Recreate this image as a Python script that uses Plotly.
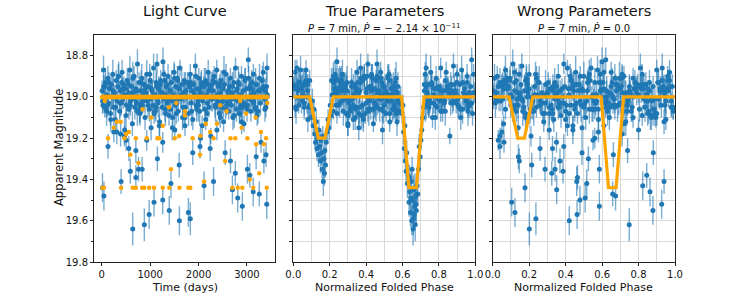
import plotly.graph_objects as go

# ---------------- data ----------------
# out-of-eclipse observations, block 1 (model magnitude 19.0)
out_t = [8, 25, 41, 52, 77, 93, 110, 128, 139, 161,
         180, 196, 214, 229, 247, 262, 281, 300, 318, 333,
         352, 371, 386, 404, 421, 440, 458, 473, 492, 510,
         527, 545, 560, 581, 598, 614, 633, 650, 668, 684,
         703, 719, 738, 756, 771, 790, 808, 826, 841, 860,
         877, 895, 912, 930, 946, 965, 983, 1001, 1018, 1036,
         1053, 1071, 1090, 1106, 1124, 1142, 1159, 1177, 1195, 1211,
         1230, 1247, 1265, 1282, 1300, 1317, 1336, 1353, 1370, 1389,
         1405, 1424, 1441, 1459, 1476, 1494, 1512, 1529, 1547, 1565,
         1582, 1600, 1617, 1635, 1652, 1671, 1688, 1706, 1723, 1741,
         1759, 1776, 1794, 1811, 1830, 1847, 1865, 1882, 1900, 1918,
         1935, 1953, 1971, 1988, 2006, 2024, 2041, 2059, 2076, 2094,
         2112, 2129, 2147, 2165, 2182, 2200, 2217, 2235, 2253, 2270,
         2288, 2306, 2323, 2341, 2358, 2376, 2394, 2411, 2429, 2447,
         2464, 2482, 2500, 2517, 2535, 2552, 2570, 2588, 2605, 2623,
         2641, 2658, 2676, 2693, 2711, 2729, 2746, 2764, 2782, 2799,
         2817, 2835, 2852, 2870, 2887, 2905, 2923, 2940, 2958, 2976,
         2993, 3011, 3028, 3046, 3064, 3081, 3099, 3117, 3134, 3152,
         3170, 3190, 3212, 3236, 3259, 3281, 3305, 3338, 3372, 3415]
out_mag = [18.97, 19.04, 18.95, 19.01, 18.93, 19.06, 18.99, 18.91, 19.03, 18.96,
           19.08, 18.94, 19.00, 18.89, 19.05, 18.98, 19.11, 18.92, 19.02, 18.95,
           18.90, 19.07, 18.97, 19.03, 18.88, 19.01, 18.94, 19.16, 18.96, 19.04,
           18.92, 18.99, 19.06, 18.87, 19.02, 18.95, 19.13, 18.98, 18.90, 19.05,
           18.96, 19.03, 18.84, 19.00, 18.93, 19.08, 18.97, 18.91, 19.04, 18.99,
           18.94, 19.10, 18.98, 18.89, 19.02, 18.95, 19.06, 18.92, 19.01, 18.97,
           19.04, 18.86, 18.99, 19.07, 18.93, 18.84, 19.02, 18.96, 19.12, 18.94,
           18.98, 19.05, 18.83, 19.01, 18.92, 19.08, 18.95, 19.03, 18.90, 19.00,
           18.97, 19.06, 18.93, 19.15, 18.99, 18.88, 19.04, 18.95, 19.02, 18.91,
           19.07, 18.96, 18.86, 19.01, 18.94, 19.10, 18.98, 18.92, 19.05, 18.97,
           19.00, 18.93, 19.08, 18.95, 18.89, 19.03, 18.97, 19.11, 18.94, 18.99,
           18.85, 19.04, 18.96, 19.02, 18.91, 19.07, 18.98, 18.93, 19.14, 19.00,
           18.95, 19.06, 18.92, 18.99, 19.03, 18.88, 19.05, 18.96, 19.19, 18.94,
           19.01, 18.97, 18.90, 19.04, 18.93, 18.87, 19.02, 18.95, 19.08, 18.98,
           18.92, 19.05, 18.96, 19.12, 18.94, 19.00, 18.89, 19.03, 18.97, 19.07,
           18.95, 18.91, 19.04, 18.98, 19.10, 18.93, 19.01, 18.86, 19.06, 18.96,
           19.02, 18.94, 19.08, 18.99, 18.90, 19.05, 18.97, 19.13, 18.92, 19.00,
           18.96, 19.04, 18.82, 19.01, 18.95, 19.07, 18.93, 19.02, 18.89, 18.98,
           19.05, 18.94, 19.09, 18.97, 18.91, 19.03, 18.96, 18.88, 19.06, 18.86]
out_err = [0.05, 0.04, 0.06, 0.05, 0.07, 0.04, 0.05, 0.06, 0.04, 0.05,
           0.06, 0.05, 0.04, 0.07, 0.05, 0.04, 0.06, 0.05, 0.05, 0.06,
           0.07, 0.05, 0.04, 0.06, 0.06, 0.05, 0.04, 0.07, 0.05, 0.05,
           0.06, 0.04, 0.05, 0.07, 0.05, 0.06, 0.06, 0.04, 0.05, 0.06,
           0.05, 0.06, 0.07, 0.04, 0.05, 0.06, 0.05, 0.07, 0.04, 0.05,
           0.04, 0.06, 0.05, 0.07, 0.05, 0.04, 0.06, 0.05, 0.06, 0.05,
           0.06, 0.07, 0.05, 0.04, 0.06, 0.05, 0.05, 0.06, 0.07, 0.04,
           0.05, 0.04, 0.07, 0.06, 0.05, 0.06, 0.04, 0.05, 0.06, 0.05,
           0.07, 0.05, 0.06, 0.06, 0.04, 0.05, 0.07, 0.05, 0.04, 0.06,
           0.05, 0.06, 0.04, 0.05, 0.07, 0.06, 0.05, 0.04, 0.06, 0.05,
           0.04, 0.05, 0.06, 0.07, 0.05, 0.04, 0.06, 0.05, 0.05, 0.07,
           0.06, 0.05, 0.04, 0.06, 0.05, 0.07, 0.04, 0.06, 0.05, 0.05,
           0.05, 0.07, 0.06, 0.04, 0.05, 0.06, 0.05, 0.07, 0.04, 0.06,
           0.06, 0.04, 0.05, 0.06, 0.07, 0.05, 0.06, 0.04, 0.05, 0.06,
           0.05, 0.06, 0.07, 0.05, 0.04, 0.06, 0.05, 0.05, 0.07, 0.04,
           0.04, 0.05, 0.06, 0.05, 0.06, 0.07, 0.04, 0.05, 0.06, 0.05,
           0.07, 0.06, 0.04, 0.05, 0.05, 0.06, 0.07, 0.04, 0.06, 0.05,
           0.05, 0.04, 0.06, 0.07, 0.05, 0.05, 0.06, 0.04, 0.05, 0.06,
           0.06, 0.05, 0.05, 0.04, 0.07, 0.06, 0.04, 0.05, 0.06, 0.07]
out_ph_true = [0.43, 0.78, 0.05, 0.31, 0.56, 0.92, 0.24, 0.47, 0.83, 0.02,
               0.36, 0.74, 0.51, 0.27, 0.96, 0.40, 0.08, 0.53, 0.88, 0.33,
               0.22, 0.58, 0.81, 0.45, 0.01, 0.29, 0.76, 0.49, 0.94, 0.38,
               0.25, 0.86, 0.55, 0.04, 0.42, 0.73, 0.30, 0.99, 0.52, 0.35,
               0.79, 0.06, 0.46, 0.91, 0.26, 0.57, 0.84, 0.39, 0.03, 0.48,
               0.72, 0.34, 0.97, 0.23, 0.54, 0.80, 0.44, 0.07, 0.28, 0.89,
               0.50, 0.37, 0.77, 0.22, 0.93, 0.41, 0.31, 0.85, 0.57, 0.00,
               0.87, 0.46, 0.24, 0.75, 0.09, 0.53, 0.32, 0.98, 0.43, 0.82,
               0.27, 0.56, 0.90, 0.36, 0.05, 0.48, 0.73, 0.26, 0.95, 0.39,
               0.81, 0.44, 0.02, 0.58, 0.34, 0.78, 0.51, 0.23, 0.91, 0.47,
               0.06, 0.76, 0.29, 0.55, 0.99, 0.40, 0.84, 0.33, 0.08, 0.52,
               0.88, 0.25, 0.45, 0.74, 0.37, 0.96, 0.57, 0.03, 0.30, 0.80,
               0.42, 0.93, 0.21, 0.49, 0.77, 0.35, 0.01, 0.54, 0.86, 0.28,
               0.59, 0.72, 0.46, 0.97, 0.32, 0.07, 0.83, 0.50, 0.24, 0.89,
               0.38, 0.79, 0.04, 0.53, 0.27, 0.94, 0.43, 0.75, 0.56, 0.31,
               0.85, 0.48, 0.09, 0.36, 0.92, 0.22, 0.58, 0.81, 0.41, 0.00,
               0.74, 0.29, 0.51, 0.95, 0.39, 0.06, 0.87, 0.44, 0.26, 0.78,
               0.54, 0.33, 0.98, 0.47, 0.02, 0.82, 0.37, 0.57, 0.90, 0.23,
               0.45, 0.76, 0.30, 0.08, 0.52, 0.96, 0.35, 0.84, 0.49, 0.73]
out_ph_wrong = [0.12, 0.67, 0.35, 0.89, 0.04, 0.58, 0.23, 0.71, 0.46, 0.95,
                0.31, 0.82, 0.09, 0.53, 0.17, 0.64, 0.40, 0.97, 0.26, 0.75,
                0.50, 0.13, 0.86, 0.37, 0.61, 0.02, 0.79, 0.44, 0.20, 0.69,
                0.93, 0.28, 0.56, 0.07, 0.84, 0.33, 0.72, 0.15, 0.48, 0.99,
                0.38, 0.63, 0.11, 0.77, 0.25, 0.90, 0.52, 0.01, 0.66, 0.42,
                0.19, 0.87, 0.30, 0.59, 0.74, 0.05, 0.45, 0.96, 0.34, 0.68,
                0.14, 0.81, 0.55, 0.22, 0.91, 0.39, 0.62, 0.08, 0.73, 0.47,
                0.27, 0.98, 0.60, 0.16, 0.43, 0.85, 0.03, 0.70, 0.36, 0.54,
                0.92, 0.21, 0.78, 0.49, 0.10, 0.65, 0.32, 0.88, 0.57, 0.24,
                0.76, 0.06, 0.41, 0.83, 0.29, 0.51, 0.94, 0.18, 0.67, 0.37,
                0.60, 0.12, 0.89, 0.44, 0.71, 0.27, 0.00, 0.58, 0.83, 0.35,
                0.16, 0.74, 0.49, 0.95, 0.08, 0.63, 0.30, 0.86, 0.41, 0.19,
                0.69, 0.53, 0.13, 0.80, 0.38, 0.97, 0.24, 0.61, 0.04, 0.46,
                0.87, 0.33, 0.72, 0.10, 0.56, 0.90, 0.22, 0.65, 0.42, 0.79,
                0.07, 0.50, 0.94, 0.28, 0.68, 0.15, 0.82, 0.39, 0.59, 0.99,
                0.23, 0.77, 0.45, 0.02, 0.64, 0.34, 0.91, 0.54, 0.11, 0.70,
                0.48, 0.84, 0.18, 0.57, 0.96, 0.31, 0.75, 0.06, 0.43, 0.66,
                0.92, 0.26, 0.62, 0.14, 0.81, 0.40, 0.52, 0.98, 0.20, 0.73,
                0.36, 0.05, 0.88, 0.47, 0.67, 0.29, 0.85, 0.12, 0.55, 0.93]

# out-of-eclipse observations, block 2
out2_t = [17, 68, 101, 148, 205, 238, 290, 342, 379, 431,
          466, 501, 553, 590, 642, 676, 728, 781, 817, 869,
          903, 955, 992, 1044, 1081, 1133, 1168, 1220, 1256, 1309,
          1345, 1379, 1415, 1467, 1503, 1556, 1591, 1644, 1679, 1732,
          1768, 1820, 1856, 1909, 1944, 1997, 2032, 2085, 2121, 2174,
          2209, 2262, 2297, 2350, 2385, 2438, 2473, 2526, 2561, 2614,
          2649, 2702, 2737, 2790, 2826, 2878, 2914, 2967, 3002, 3055,
          3090, 3143, 3178, 3230, 3266, 3318, 3355, 3390, 3405, 3418,
          36, 187, 412, 618, 795, 1027, 1283, 1460, 1705, 1962,
          2193, 2417, 2628, 2845, 3037, 3223, 3345, 120, 1571, 2751,
          560, 1118, 1837, 2498, 3110, 735, 1325, 2056, 2935, 3380]
out2_mag = [19.02, 18.95, 19.07, 18.93, 19.00, 18.97, 19.05, 18.90, 19.03, 18.96,
            18.99, 19.09, 18.94, 19.04, 18.91, 19.01, 18.97, 19.06, 18.93, 19.02,
            18.96, 19.04, 18.89, 19.00, 19.08, 18.95, 19.03, 18.92, 18.98, 19.06,
            18.94, 19.01, 18.97, 19.10, 18.91, 19.03, 18.96, 18.99, 19.05, 18.93,
            19.00, 18.95, 19.07, 18.98, 18.90, 19.04, 18.96, 19.02, 18.93, 19.08,
            18.97, 19.01, 18.92, 19.05, 18.99, 18.94, 19.03, 18.88, 19.06, 18.98,
            19.02, 18.95, 19.09, 18.97, 18.93, 19.04, 19.00, 18.91, 19.06, 18.96,
            18.99, 19.03, 18.94, 19.07, 18.97, 18.92, 19.01, 19.05, 18.95, 19.00,
            18.87, 19.11, 18.93, 19.00, 19.04, 18.96, 18.89, 19.02, 18.98, 19.06,
            18.94, 19.03, 18.97, 19.08, 18.91, 19.00, 18.95, 19.04, 18.92, 19.01,
            18.98, 19.05, 18.93, 19.02, 18.96, 19.07, 18.99, 18.94, 19.03, 18.97]
out2_err = [0.06, 0.05, 0.07, 0.05, 0.06, 0.08, 0.05, 0.06, 0.07, 0.05,
            0.05, 0.07, 0.06, 0.05, 0.08, 0.06, 0.05, 0.07, 0.06, 0.05,
            0.07, 0.06, 0.05, 0.08, 0.05, 0.06, 0.07, 0.05, 0.06, 0.06,
            0.05, 0.08, 0.06, 0.05, 0.07, 0.06, 0.05, 0.06, 0.08, 0.05,
            0.06, 0.05, 0.07, 0.06, 0.05, 0.08, 0.06, 0.05, 0.07, 0.06,
            0.08, 0.06, 0.05, 0.07, 0.06, 0.05, 0.06, 0.08, 0.05, 0.07,
            0.05, 0.07, 0.06, 0.05, 0.08, 0.06, 0.07, 0.05, 0.06, 0.05,
            0.06, 0.05, 0.08, 0.06, 0.05, 0.07, 0.06, 0.05, 0.07, 0.06,
            0.07, 0.06, 0.05, 0.06, 0.08, 0.05, 0.06, 0.07, 0.05, 0.06,
            0.05, 0.06, 0.07, 0.05, 0.06, 0.08, 0.05, 0.06, 0.07, 0.05,
            0.06, 0.07, 0.05, 0.06, 0.05, 0.07, 0.08, 0.06, 0.05, 0.06]
out2_ph_true = [0.265, 0.845, 0.415, 0.035, 0.735, 0.505, 0.315, 0.955, 0.445, 0.775,
                0.055, 0.375, 0.865, 0.235, 0.565, 0.905, 0.345, 0.015, 0.485, 0.805,
                0.285, 0.745, 0.525, 0.075, 0.395, 0.975, 0.255, 0.835, 0.465, 0.545,
                0.915, 0.325, 0.025, 0.765, 0.435, 0.585, 0.225, 0.875, 0.365, 0.065,
                0.815, 0.495, 0.275, 0.935, 0.405, 0.725, 0.045, 0.575, 0.355, 0.985,
                0.245, 0.795, 0.455, 0.085, 0.535, 0.885, 0.305, 0.755, 0.425, 0.965,
                0.515, 0.015, 0.385, 0.825, 0.295, 0.555, 0.945, 0.235, 0.475, 0.785,
                0.335, 0.895, 0.055, 0.495, 0.855, 0.265, 0.415, 0.745, 0.575, 0.025,
                0.925, 0.385, 0.065, 0.815, 0.455, 0.235, 0.725, 0.525, 0.995, 0.345,
                0.075, 0.865, 0.295, 0.565, 0.785, 0.435, 0.005, 0.905, 0.255, 0.485,
                0.735, 0.325, 0.955, 0.045, 0.405, 0.835, 0.545, 0.275, 0.875, 0.365]
out2_ph_wrong = [0.555, 0.085, 0.735, 0.305, 0.915, 0.175, 0.645, 0.425, 0.015, 0.785,
                 0.245, 0.865, 0.475, 0.125, 0.695, 0.355, 0.955, 0.205, 0.585, 0.035,
                 0.815, 0.405, 0.145, 0.625, 0.275, 0.985, 0.505, 0.095, 0.755, 0.325,
                 0.675, 0.055, 0.445, 0.895, 0.185, 0.565, 0.315, 0.845, 0.115, 0.605,
                 0.385, 0.935, 0.225, 0.715, 0.025, 0.485, 0.825, 0.165, 0.655, 0.285,
                 0.965, 0.135, 0.535, 0.765, 0.345, 0.075, 0.615, 0.455, 0.885, 0.195,
                 0.045, 0.705, 0.375, 0.595, 0.255, 0.925, 0.105, 0.525, 0.805, 0.435,
                 0.295, 0.635, 0.155, 0.855, 0.495, 0.065, 0.745, 0.365, 0.975, 0.215,
                 0.575, 0.335, 0.905, 0.005, 0.685, 0.415, 0.235, 0.875, 0.135, 0.545,
                 0.795, 0.265, 0.625, 0.465, 0.095, 0.725, 0.395, 0.945, 0.185, 0.665,
                 0.355, 0.835, 0.055, 0.515, 0.775, 0.165, 0.945, 0.445, 0.265, 0.595]
out_model = 19.0

# secondary-eclipse observations
sec_t = [62, 2450, 845, 1720, 3180, 390, 1260, 2890, 560, 2040,
         3395, 1510, 130, 2660, 930, 1880, 3010, 470, 2310, 1150,
         2760, 705, 1600, 3290, 250, 2150, 1020, 2580, 1390, 3420]
sec_mag = [19.05, 19.10, 19.02, 19.14, 19.06, 19.18, 19.22, 19.12, 19.25, 19.20,
           19.28, 19.16, 19.24, 19.31, 19.21, 19.27, 19.35, 19.19, 19.41, 19.30,
           19.37, 19.26, 19.33, 19.22, 19.17, 19.11, 19.15, 19.04, 19.09, 18.99]
sec_err = [0.05, 0.05, 0.06, 0.05, 0.05, 0.06, 0.05, 0.06, 0.06, 0.05,
           0.06, 0.05, 0.06, 0.06, 0.05, 0.06, 0.07, 0.05, 0.07, 0.06,
           0.06, 0.06, 0.06, 0.05, 0.05, 0.05, 0.06, 0.05, 0.05, 0.05]
sec_ph_true = [0.095, 0.100, 0.105, 0.110, 0.113, 0.118, 0.122, 0.126, 0.130, 0.134,
               0.138, 0.141, 0.145, 0.149, 0.152, 0.156, 0.159, 0.162, 0.165, 0.168,
               0.171, 0.173, 0.177, 0.181, 0.186, 0.191, 0.197, 0.203, 0.208, 0.214]
sec_ph_wrong = [0.62, 0.18, 0.85, 0.44, 0.07, 0.71, 0.062, 0.94, 0.26, 0.56,
                0.662, 0.80, 0.39, 0.146, 0.03, 0.49, 0.585, 0.21, 0.461, 0.525,
                0.324, 0.74, 0.214, 0.35, 0.58, 0.95, 0.14, 0.43, 0.82, 0.65]
sec_model = [19.02, 19.04, 19.06, 19.09, 19.10, 19.12, 19.14, 19.15, 19.17, 19.19,
             19.20, 19.20, 19.20, 19.20, 19.20, 19.20, 19.20, 19.20, 19.20, 19.20,
             19.20, 19.20, 19.19, 19.17, 19.15, 19.13, 19.10, 19.07, 19.05, 19.03]

# primary-eclipse observations
pri_t = [1540, 2980, 310, 2240, 1190, 3350, 590, 2550, 1430, 3060,
         1080, 3130, 1790, 400, 1605, 1260, 640, 2700, 980, 2905,
         880, 45, 1395, 2115, 3255, 760, 2030, 3190, 505, 2380,
         1720, 2860, 705, 2810, 835, 1830, 15, 3410]
pri_mag = [19.08, 19.04, 19.17, 19.25, 19.14, 19.31, 19.36, 19.27, 19.42, 19.38,
           19.51, 19.46, 19.56, 19.41, 19.60, 19.50, 19.64, 19.45, 19.57, 19.53,
           19.62, 19.48, 19.55, 19.43, 19.47, 19.35, 19.24, 19.29, 19.21, 19.16,
           19.10, 19.05, 19.39, 19.49, 19.35, 19.59, 19.44, 19.52]
pri_err = [0.05, 0.05, 0.06, 0.06, 0.05, 0.06, 0.06, 0.06, 0.07, 0.06,
           0.07, 0.07, 0.07, 0.06, 0.07, 0.07, 0.08, 0.07, 0.07, 0.07,
           0.08, 0.07, 0.07, 0.07, 0.06, 0.06, 0.06, 0.06, 0.05, 0.05,
           0.05, 0.05, 0.06, 0.07, 0.06, 0.08, 0.07, 0.07]
pri_ph_true = [0.598, 0.602, 0.606, 0.610, 0.613, 0.616, 0.620, 0.623, 0.627, 0.631,
               0.636, 0.640, 0.644, 0.648, 0.651, 0.655, 0.658, 0.661, 0.664, 0.667,
               0.670, 0.673, 0.676, 0.680, 0.684, 0.688, 0.692, 0.697, 0.701, 0.706,
               0.711, 0.716, 0.638, 0.646, 0.653, 0.660, 0.668, 0.674]
pri_ph_wrong = [0.33, 0.72, 0.05, 0.328, 0.61, 0.369, 0.386, 0.881, 0.516, 0.845,
                0.104, 0.863, 0.122, 0.94, 0.42, 0.479, 0.201, 0.351, 0.463, 0.585,
                0.749, 0.674, 0.879, 0.823, 0.658, 0.287, 0.04, 0.141, 0.55, 0.31,
                0.77, 0.98, 0.465, 0.507, 0.342, 0.237, 0.177, 0.927]
pri_model = [19.03, 19.08, 19.12, 19.17, 19.20, 19.23, 19.28, 19.31, 19.35, 19.40,
             19.44, 19.44, 19.44, 19.44, 19.44, 19.44, 19.44, 19.44, 19.44, 19.44,
             19.44, 19.44, 19.44, 19.41, 19.37, 19.32, 19.28, 19.23, 19.18, 19.13,
             19.07, 19.02, 19.44, 19.44, 19.44, 19.44, 19.44, 19.44]

# eclipse model curve (folded)
model_phase = [0.0, 0.09, 0.137, 0.174, 0.22, 0.595, 0.635, 0.677, 0.718, 1.0]
model_mag = [19.0, 19.0, 19.2, 19.2, 19.0, 19.0, 19.44, 19.44, 19.0, 19.0]

# axis ticks
lc_xticks = [0, 1000, 2000, 3000]
mag_ticks = [18.8, 19.0, 19.2, 19.4, 19.6, 19.8]
mag_minor = [18.9, 19.1, 19.3, 19.5, 19.7]
mag_grid = [18.8, 18.9, 19.0, 19.1, 19.2, 19.3, 19.4, 19.5, 19.6, 19.7]
phase_ticks = [0.0, 0.2, 0.4, 0.6, 0.8, 1.0]
phase_minor = [0.1, 0.3, 0.5, 0.7, 0.9]

titles = ["Light Curve", "True Parameters", "Wrong Parameters"]
subtitles = ["<i>P</i> = 7 min, <i>Ṗ</i> = − 2.14 × 10<sup>−11</sup>",
             "<i>P</i> = 7 min, <i>Ṗ</i> = 0.0"]

# ---------------- assemble ----------------
def fit(*arrs):
    n = min(len(a) for a in arrs)
    return [list(a[:n]) for a in arrs]

o1 = fit(out_t, out_mag, out_err, out_ph_true, out_ph_wrong)
o2 = fit(out2_t, out2_mag, out2_err, out2_ph_true, out2_ph_wrong)
s = fit(sec_t, sec_mag, sec_err, sec_ph_true, sec_ph_wrong, sec_model)
p = fit(pri_t, pri_mag, pri_err, pri_ph_true, pri_ph_wrong, pri_model)

all_t = o1[0] + o2[0] + s[0] + p[0]
all_mag = o1[1] + o2[1] + s[1] + p[1]
all_err = o1[2] + o2[2] + s[2] + p[2]
all_ph_true = o1[3] + o2[3] + s[3] + p[3]
all_ph_wrong = o1[4] + o2[4] + s[4] + p[4]
all_model = [out_model] * (len(o1[0]) + len(o2[0])) + s[5] + p[5]

BLUE = "#1f77b4"
BAR = "rgba(31,119,180,0.6)"
ORANGE = "#FFA500"
FONT = "DejaVu Sans"
W, H = 750, 300

fig = go.Figure()

def blue_trace(x, xa, ya):
    return go.Scatter(
        x=x, y=all_mag, mode="markers", xaxis=xa, yaxis=ya,
        marker=dict(color=BLUE, size=5, line=dict(width=0)),
        error_y=dict(type="data", array=all_err, visible=True,
                     color=BAR, thickness=1.4, width=0),
        showlegend=False, hoverinfo="skip")

fig.add_trace(blue_trace(all_t, "x", "y"))
fig.add_trace(go.Scatter(x=all_t, y=all_model, mode="markers", xaxis="x", yaxis="y",
                         marker=dict(color=ORANGE, size=4.5, line=dict(width=0)),
                         showlegend=False, hoverinfo="skip"))
fig.add_trace(blue_trace(all_ph_true, "x2", "y2"))
fig.add_trace(go.Scatter(x=model_phase, y=model_mag, mode="lines", xaxis="x2", yaxis="y2",
                         line=dict(color=ORANGE, width=3.2), showlegend=False, hoverinfo="skip"))
fig.add_trace(blue_trace(all_ph_wrong, "x3", "y3"))
fig.add_trace(go.Scatter(x=model_phase, y=model_mag, mode="lines", xaxis="x3", yaxis="y3",
                         line=dict(color=ORANGE, width=3.2), showlegend=False, hoverinfo="skip"))

px_dom = [(94, 275), (293.3, 475.3), (492.7, 675)]
ydom = [1 - 262 / H, 1 - 35 / H]
GRID = "#d9d9d9"
axis_common = dict(showline=True, mirror=True, linecolor="#222", linewidth=1,
                   ticks="outside", ticklen=3, tickwidth=1, tickcolor="#222",
                   zeroline=False, automargin=False,
                   tickfont=dict(family=FONT, size=10, color="#111"))

layout = dict(width=W, height=H, margin=dict(l=0, r=0, t=0, b=0, autoexpand=False),
              plot_bgcolor="white", paper_bgcolor="white",
              font=dict(family=FONT, color="#111"))

layout["xaxis"] = dict(domain=[px_dom[0][0] / W, px_dom[0][1] / W], range=[-160, 3580],
                       tickvals=lc_xticks, showgrid=False, anchor="y", **axis_common)
layout["yaxis"] = dict(domain=ydom, range=[19.8, 18.7], tickvals=mag_ticks,
                       ticktext=[f"{v:.1f}" for v in mag_ticks], showgrid=False, anchor="x",
                       minor=dict(tickvals=mag_minor, ticks="outside", ticklen=2,
                                  tickcolor="#222", showgrid=False),
                       **axis_common)
for i, (xa, ya) in enumerate([("xaxis2", "yaxis2"), ("xaxis3", "yaxis3")], start=1):
    n = i + 1
    layout[xa] = dict(domain=[px_dom[i][0] / W, px_dom[i][1] / W], range=[0, 1],
                      tickvals=phase_ticks, ticktext=[f"{v:.1f}" for v in phase_ticks],
                      showgrid=True, gridcolor=GRID, gridwidth=1.2, anchor=f"y{n}",
                      minor=dict(tickvals=phase_minor, ticks="", showgrid=True,
                                 gridcolor=GRID, gridwidth=1.2),
                      **axis_common)
    layout[ya] = dict(domain=ydom, range=[19.8, 18.7], tickvals=mag_grid,
                      showticklabels=False, showgrid=True, gridcolor=GRID, gridwidth=1.2,
                      anchor=f"x{n}", **axis_common)

fig.update_layout(**layout)

def ann(text, x, y, size, angle=0):
    fig.add_annotation(text=text, x=x / W, y=1 - y / H, xref="paper", yref="paper",
                       showarrow=False, xanchor="center", yanchor="middle",
                       textangle=angle, font=dict(family=FONT, size=size, color="#111"))

centers = [(a + b) / 2 for a, b in px_dom]
for c, t in zip(centers, titles):
    ann(t, c, 11, 14.5)
for c, st in zip(centers[1:], subtitles):
    ann(st, c, 28, 10)
ann("Time (days)", centers[0], 287, 11)
ann("Normalized Folded Phase", centers[1], 287, 11)
ann("Normalized Folded Phase", centers[2], 287, 11)
ann("Apparent Magnitude", 59, 148, 11.5, angle=-90)

fig.write_html("out.html", config={"displayModeBar": False},
               post_script="document.body.style.margin='0px';"
                           "document.body.style.padding='0px';"
                           "document.body.style.overflow='hidden';")
